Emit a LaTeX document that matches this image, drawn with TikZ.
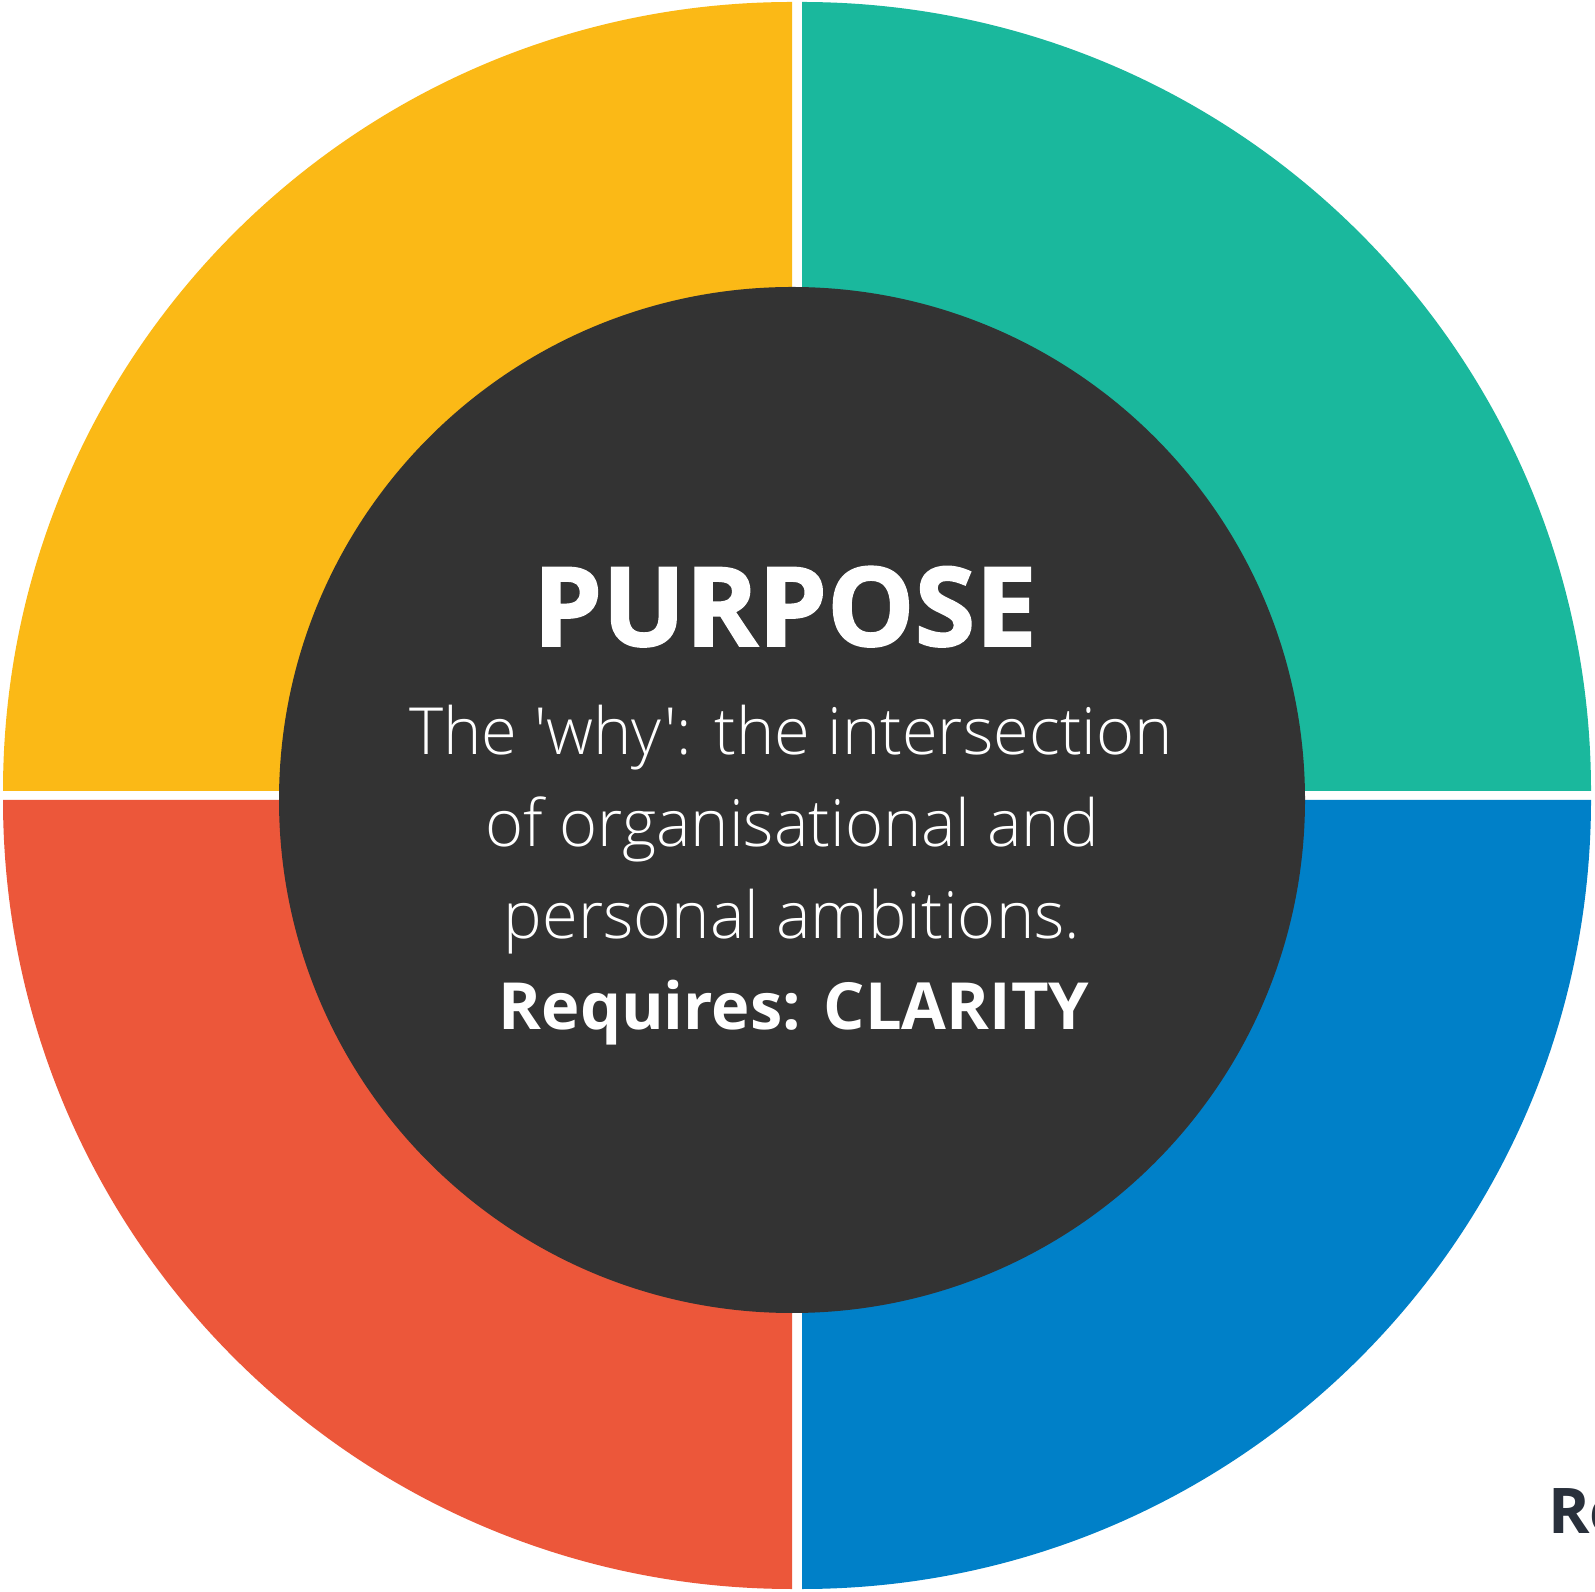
\documentclass[tikz,border=0pt]{standalone}
\usepackage{fontspec}
\setmainfont{Open Sans}
\newfontfamily\oslight[Ligatures=TeXOff]{Open Sans Light}
\newfontfamily\osxbold[BoldFeatures={FakeBold=1.5}]{Open Sans}
\definecolor{qyellow}{HTML}{FBB916}
\definecolor{qteal}{HTML}{1AB89D}
\definecolor{qred}{HTML}{EC573A}
\definecolor{qblue}{HTML}{0080C8}
\definecolor{qdark}{HTML}{333333}
\definecolor{qnavy}{HTML}{29303B}
\tikzset{
  bodyline/.style={anchor=base, text=white, inner sep=0pt, font=\oslight\fontsize{65}{80}\selectfont},
  boldline/.style={anchor=base, text=white, inner sep=0pt, font=\bfseries\fontsize{65}{80}\selectfont},
}
\begin{document}
\begin{tikzpicture}[x=1pt,y=1pt]
\useasboundingbox (0,0) rectangle (1595,1591);
\clip (0,0) rectangle (1595,1591);
\fill[white] (0,0) rectangle (1595,1591);
% quadrants
\fill[qyellow] (792,800) -- ++(0,789) arc[start angle=90,end angle=180,radius=789] -- cycle;
\fill[qteal] (802,800) -- ++(789,0) arc[start angle=0,end angle=90,radius=789] -- cycle;
\fill[qred] (792,791) -- ++(-789,0) arc[start angle=180,end angle=270,radius=789] -- cycle;
\fill[qblue] (802,791) -- ++(0,-789) arc[start angle=270,end angle=360,radius=789] -- cycle;
% centre disc
\node[circle, fill=qdark, minimum size=1026pt, inner sep=0pt] (core) at (792,791) {};
% texts
\node[anchor=base, text=white, inner sep=0pt, font=\osxbold\bfseries\fontsize{110}{120}\selectfont] (title) at (785,945) {PURPOSE};
\node[bodyline] (l1) at (791,836) {The 'why': the intersection};
\node[bodyline] (l2) at (792,744) {of organisational and};
\node[bodyline] (l3) at (792,652) {personal ambitions.};
\node[boldline] (l4) at (794,561) {Requires: CLARITY};
\node[anchor=base west, text=qnavy, inner sep=0pt, font=\bfseries\fontsize{63}{70}\selectfont] (cut) at (1548,58) {Re};
\end{tikzpicture}
\end{document}
